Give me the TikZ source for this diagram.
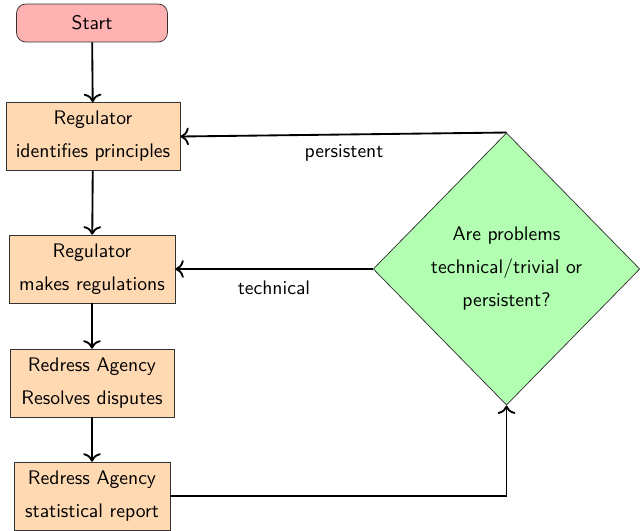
\documentclass[tikz,border=0pt]{standalone}
\usetikzlibrary{shapes.geometric,arrows.meta}
\begin{document}
\begin{tikzpicture}[x=0.54pt,y=-0.54pt,
  font=\sffamily\fontsize{10.6pt}{12.7pt}\selectfont,
  startbox/.style={draw=black!80, fill=red!30, rounded corners=5pt, minimum width=81.5pt, minimum height=20.5pt, inner sep=0pt},
  procbox/.style={draw=black!80, fill=orange!30, minimum height=36.7pt, inner sep=0pt, align=center},
  decision/.style={diamond, draw=black!80, fill=green!30, minimum width=144pt, minimum height=147pt, inner sep=0pt, align=center},
  conn/.style={draw, line width=1pt, -{To[scale=1.2]}},
  lbl/.style={}
]
\useasboundingbox (0,0) rectangle (640,530);
\node[startbox] (start) at (92,23) {Start};
\node[procbox, minimum width=94pt] (b1) at (93,136.5) {Regulator\\[5.1pt]identifies principles};
\node[procbox, minimum width=89.6pt] (b2) at (92,269) {Regulator\\[5.1pt]makes regulations};
\node[procbox, minimum width=88.6pt] (b3) at (92,383) {Redress Agency\\[5.1pt]Resolves disputes};
\node[procbox, minimum width=84.2pt] (b4) at (92,496) {Redress Agency\\[5.1pt]statistical report};
\node[decision] (d) at (506.5,269) {Are problems\\[5.1pt]technical/trivial or\\[5.1pt]persistent?};
\coordinate (c4) at (d.south |- b4.east);
\draw[conn] (start) -- (b1);
\draw[conn] (b1) -- (b2);
\draw[conn] (b2) -- (b3);
\draw[conn] (b3) -- (b4);
\draw[conn] (b4.east) -- (c4) -- (d.south);
\draw[conn] (d.north) -- (b1.east);
\draw[conn] (d.west) -- (b2.east);
\node[lbl] (lp) at (344,153) {persistent};
\node[lbl] (lt) at (274,288) {technical};
\end{tikzpicture}
\end{document}
